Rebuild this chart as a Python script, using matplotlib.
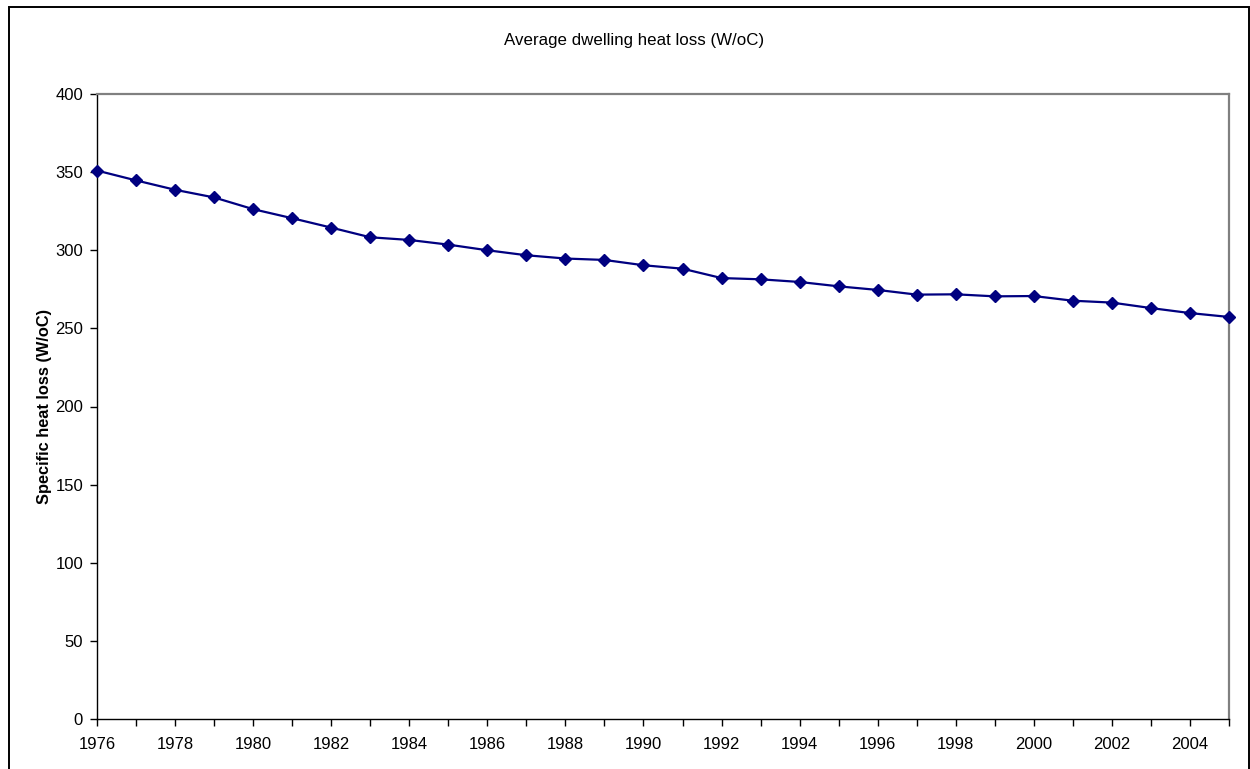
import matplotlib
matplotlib.use("Agg")
import matplotlib.pyplot as plt
from matplotlib.patches import Rectangle
from matplotlib.ticker import MultipleLocator

years = list(range(1976, 2006))
heat_loss = [351.0, 344.7, 338.7, 333.8, 326.3, 320.5, 314.5, 308.3, 306.6, 303.6,
             300.0, 296.8, 294.7, 293.8, 290.4, 288.2, 282.2, 281.4, 279.7, 276.9,
             274.6, 271.6, 271.8, 270.5, 270.7, 267.7, 266.5, 263.0, 259.8, 257.3]
year_labels = [str(y) if (y - 1976) % 2 == 0 else "" for y in years]

title = "Average dwelling heat loss (W/oC)"
ylabel = "Specific heat loss (W/oC)"

plt.rcParams["font.family"] = ["Liberation Sans", "DejaVu Sans"]

W, H = 1250, 769
fig = plt.figure(figsize=(W / 100, H / 100), dpi=100)
fig.patch.set_facecolor("white")

# outer chart frame (open at the bottom)
fig.add_artist(Rectangle((9 / W, -0.05), (1249 - 9) / W, 1.05 - 6.5 / H,
                         transform=fig.transFigure, fill=False,
                         edgecolor="black", linewidth=1.4))

left, right, top, bottom = 97, 1229, 94, 719
ax = fig.add_axes([left / W, (H - bottom) / H, (right - left) / W, (bottom - top) / H])

ax.plot(years, heat_loss, color="#000080", linewidth=1.6,
        marker="D", markersize=6, markerfacecolor="#000080",
        markeredgecolor="#000080", clip_on=False, zorder=3)

ax.set_xlim(1976, 2005)
ax.set_ylim(0, 400)
ax.yaxis.set_major_locator(MultipleLocator(50))
ax.set_xticks(years)
ax.set_xticklabels(year_labels)

for side in ("left", "bottom"):
    ax.spines[side].set_color("black")
    ax.spines[side].set_linewidth(1.0)
for side in ("top", "right"):
    ax.spines[side].set_color("#808080")
    ax.spines[side].set_linewidth(1.6)

ax.tick_params(axis="both", direction="out", length=5, width=1.0,
               labelsize=12, colors="black")
ax.tick_params(axis="x", pad=8)
ax.tick_params(axis="y", pad=5)

ax.set_ylabel(ylabel, fontsize=11.8, fontweight="bold", labelpad=2.5)
fig.text(634 / W, 1 - 40 / H, title, ha="center", va="center", fontsize=12.2)

fig.savefig("out.png", dpi=100, facecolor="white")
